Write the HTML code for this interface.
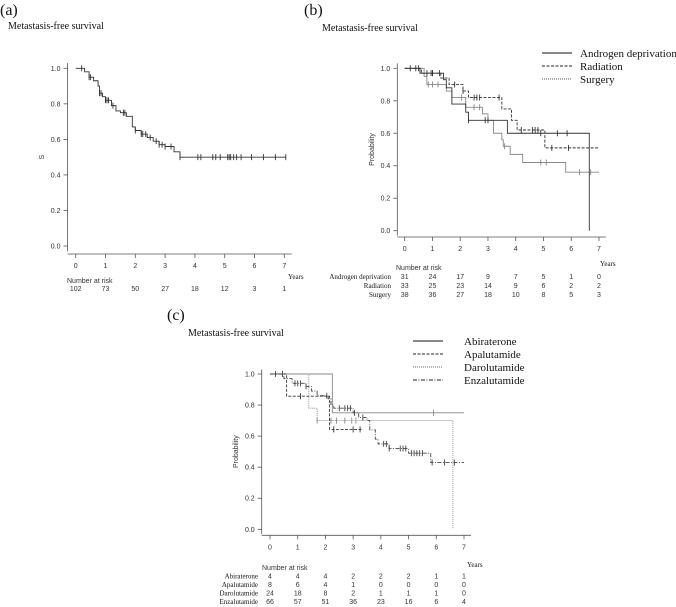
<!DOCTYPE html>
<html><head><meta charset="utf-8">
<style>
html,body{margin:0;padding:0;background:#fff;width:676px;height:607px;overflow:hidden}
svg{display:block}
.ser{font-family:"Liberation Serif",serif;fill:#111}
.san{font-family:"Liberation Sans",sans-serif;fill:#333;font-size:7px}
</style></head>
<body>
<svg id="fig" width="676" height="607" xmlns="http://www.w3.org/2000/svg">
<text class="ser" x="0" y="15" font-size="16">(a)</text>
<text class="ser" x="8" y="29" font-size="10">Metastasis-free survival</text>
<text class="ser" x="304" y="15" font-size="16">(b)</text>
<text class="ser" x="322" y="31" font-size="10">Metastasis-free survival</text>
<text class="ser" x="167" y="320" font-size="16">(c)</text>
<text class="ser" x="188" y="336" font-size="10">Metastasis-free survival</text>
</svg>
<script>
// ---- Panel A data ----
const aTimes=[0.3,0.45,0.6,0.75,0.8,0.9,1.0,1.2,1.35,1.5,1.7,1.9,2.0,2.2,2.4,2.6,2.8,3.0,3.3,3.5];
const aSurv=[0.98,0.95,0.93,0.9,0.86,0.84,0.82,0.79,0.76,0.75,0.73,0.67,0.65,0.63,0.61,0.59,0.57,0.56,0.53,0.50];
const aCens=[0.2,0.45,0.5,0.8,0.85,1.0,1.05,1.1,1.25,1.6,1.65,2.0,2.2,2.25,2.35,2.5,2.7,2.8,2.9,3.0,3.2,3.5,4.1,4.2,4.6,4.7,4.85,5.1,5.15,5.2,5.3,5.4,5.55,5.9,6.3,6.7,7.05];
const aEnd=7.05;
const aRisk=[102,73,50,27,18,12,3,1];
// ---- Panel B data ----
const bAdT=[0.55,1.4,1.5,1.7,2.2,2.3,3.7,6.65];
const bAdS=[0.97,0.93,0.88,0.78,0.73,0.68,0.60,0.0];
const bAdC=[0.2,0.4,0.95,1.0,1.25,2.3,2.9,3.0,4.9,5.5,5.85];
const bRaT=[0.6,1.3,1.6,2.1,2.3,3.5,3.85,4.05,5.05];
const bRaS=[0.97,0.94,0.90,0.86,0.82,0.75,0.68,0.62,0.51];
const bRaC=[0.5,0.8,1.0,1.8,2.1,2.5,2.6,2.7,3.4,4.2,4.6,4.7,4.8,5.3,5.9];
const bSuT=[0.7,0.8,1.5,1.7,2.2,2.8,3.0,3.2,3.5,3.55,3.8,4.25,5.8];
const bSuS=[0.95,0.90,0.86,0.82,0.76,0.72,0.68,0.60,0.56,0.52,0.47,0.42,0.36];
const bSuC=[0.85,1.0,1.2,2.05,2.5,2.7,3.6,4.9,5.1,6.3,6.7];
const bRiskAd=[31,24,17,9,7,5,1,0];
const bRiskRa=[33,25,23,14,9,6,2,2];
const bRiskSu=[38,36,27,18,10,8,5,3];
// ---- Panel C data ----
const cAbT=[2.25];const cAbS=[0.75];const cAbC=[5.9];
const cApT=[0.6,2.15];const cApS=[0.857,0.643];const cApC=[1.1,2.3,3.0,3.25];
const cDaT=[1.4,1.7,6.6];const cDaS=[0.78,0.70,0.0];const cDaC=[1.7,2.2,2.4,2.7,2.95,3.1];
const cEnT=[0.5,0.8,1.3,1.5,1.7,2.1,2.2,2.3,3.0,3.2,3.5,3.6,3.8,3.9,4.3,5.0,5.8];
const cEnS=[0.97,0.94,0.92,0.89,0.86,0.84,0.80,0.78,0.75,0.72,0.70,0.64,0.58,0.55,0.52,0.49,0.43];
const cEnC=[0.2,0.45,0.9,1.0,1.1,1.3,2.05,2.5,2.7,2.8,2.9,3.05,3.35,4.1,4.2,4.3,4.7,4.8,4.9,5.1,5.2,5.3,5.4,5.5,5.85,6.3,6.65];
const cRiskAb=[4,4,4,2,2,2,1,1];
const cRiskAp=[8,6,4,1,0,0,0,0];
const cRiskDa=[24,18,8,2,1,1,1,0];
const cRiskEn=[66,57,51,36,23,16,6,4];
const xTicks=[0,1,2,3,4,5,6,7];
const yTicks=[0,0.2,0.4,0.6,0.8,1.0];

const NS="http://www.w3.org/2000/svg";
const svg=document.getElementById('fig');
function mk(tag,attrs,parent){const e=document.createElementNS(NS,tag);for(const k in attrs)e.setAttribute(k,attrs[k]);(parent||svg).appendChild(e);return e;}

function panel(P){
  const g=mk('g',{});
  
  
  const X=t=>P.x0+t*(P.x7-P.x0)/7, Y=v=>P.yZero+v*(P.yOne-P.yZero);
  const ya=mk('line',{x1:P.ax,y1:Y(1.03),x2:P.ax,y2:Y(-0.03),stroke:'#555','stroke-width':0.8},g);
  
  yTicks.forEach(v=>{mk('line',{x1:P.ax-4,y1:Y(v),x2:P.ax,y2:Y(v),stroke:'#555','stroke-width':0.8},g);
    const t=mk('text',{x:P.ax-7,y:Y(v)+2.5,'text-anchor':'end',class:'san'},g);t.textContent=v.toFixed(1);
    });
  const xa=mk('line',{x1:P.ax,y1:P.axY,x2:X(7.25),y2:P.axY,stroke:'#555','stroke-width':0.8},g);
  
  xTicks.forEach(v=>{mk('line',{x1:X(v),y1:P.axY,x2:X(v),y2:P.axY+4,stroke:'#555','stroke-width':0.8},g);
    const t=mk('text',{x:X(v),y:P.axY+14,'text-anchor':'middle',class:'san'},g);t.textContent=v;
    });
  const yl=mk('text',{x:P.ylX,y:(Y(0)+Y(1))/2,'text-anchor':'middle',class:'san',transform:`rotate(-90 ${P.ylX} ${(Y(0)+Y(1))/2})`},g);
  yl.textContent=P.ylab;
  const yr=mk('text',{x:P.yearsX,y:P.yearsY,class:'ser','font-size':7},g);yr.textContent='Years';
  
  P.series.forEach(s=>{
    let d=`M${X(0)},${Y(1)}`;
    s.t.forEach((t,i)=>{d+=` H${X(t)} V${Y(s.s[i])}`;});
    const last=s.t.length?s.t[s.t.length-1]:0;
    if(s.end>last) d+=` H${X(s.end)}`;
    const p=mk('path',{d:d,fill:'none',stroke:s.col,'stroke-width':0.9,'stroke-dasharray':s.dash},g);
    
    s.c.forEach(ct=>{let v=1;s.t.forEach((t,i)=>{if(t<=ct)v=s.s[i];});
      const m=mk('path',{d:`M${X(ct)},${Y(v)-3}V${Y(v)+3}`,stroke:s.col,'stroke-width':0.9},g);
      });
  });
  const nr=mk('text',{x:P.nrX,y:P.nrY,class:'san','font-size':6.5},g);nr.textContent='Number at risk';
  
  P.risk.forEach((r,ri)=>{const yy=P.nrY+P.rowGap*(ri+1);
    if(r.label){const l=mk('text',{x:P.rlX,y:yy,'text-anchor':'end',class:'ser','font-size':7},g);l.textContent=r.label;
      }
    r.v.forEach((n,i)=>{const t=mk('text',{x:X(xTicks[i]),y:yy,'text-anchor':'middle',class:'san'},g);t.textContent=n;
      });});
  (P.legend||[]).forEach((s,i)=>{const yy=P.lgY+i*P.lgGap;
    const ln=mk('line',{x1:P.lgX,y1:yy-4,x2:P.lgX+30,y2:yy-4,stroke:s.col,'stroke-width':1,'stroke-dasharray':s.dash},g);
    
    const t=mk('text',{x:P.lgTX,y:yy,class:'ser','font-size':11},g);t.textContent=s.label;
    });
}

panel({name:'panel-a',x0:75.7,x7:284.3,yZero:246,yOne:68.3,ax:67.5,axY:254,ylX:44,ylab:'S',yearsX:288,yearsY:279,
  nrX:67,nrY:283,rowGap:8,rlX:0,
  risk:[{label:'',v:aRisk}],
  series:[{key:'overall',t:aTimes,s:aSurv,c:aCens,end:aEnd,col:'#333',dash:'none'}]});

const bLeg=[{label:'Androgen deprivation',col:'#111',dash:'none'},{label:'Radiation',col:'#222',dash:'3,1.5'},{label:'Surgery',col:'#555',dash:'1,1'}];
panel({name:'panel-b',x0:404.7,x7:599,yZero:230.7,yOne:68.3,ax:397.3,axY:237,ylX:374,ylab:'Probability',yearsX:600,yearsY:266,
  nrX:396,nrY:270,rowGap:9,rlX:391,
  risk:[{label:'Androgen deprivation',v:bRiskAd},{label:'Radiation',v:bRiskRa},{label:'Surgery',v:bRiskSu}],
  legend:bLeg,lgX:542,lgTX:580,lgY:57,lgGap:13,
  series:[{key:'surgery',t:bSuT,s:bSuS,c:bSuC,end:7.0,col:'#888',dash:'none'},
          {key:'radiation',t:bRaT,s:bRaS,c:bRaC,end:7.0,col:'#333',dash:'3,1.5'},
          {key:'androgen-deprivation',t:bAdT,s:bAdS,c:bAdC,end:6.65,col:'#333',dash:'none'}]});

const cLeg=[{label:'Abiraterone',col:'#111',dash:'none'},{label:'Apalutamide',col:'#222',dash:'3,1.5'},{label:'Darolutamide',col:'#666',dash:'1,1'},{label:'Enzalutamide',col:'#222',dash:'4,1.5,1,1.5'}];
panel({name:'panel-c',x0:270,x7:464,yZero:529.3,yOne:374,ax:261.7,axY:535.3,ylX:238,ylab:'Probability',yearsX:467,yearsY:567,
  nrX:262,nrY:570,rowGap:8.5,rlX:258,
  risk:[{label:'Abiraterone',v:cRiskAb},{label:'Apalutamide',v:cRiskAp},{label:'Darolutamide',v:cRiskDa},{label:'Enzalutamide',v:cRiskEn}],
  legend:cLeg,lgX:413,lgTX:464,lgY:345,lgGap:13,
  series:[{key:'abiraterone',t:cAbT,s:cAbS,c:cAbC,end:7.0,col:'#888',dash:'none'},
          {key:'darolutamide',t:cDaT,s:cDaS,c:cDaC,end:6.6,col:'#888',dash:'1,1'},
          {key:'enzalutamide',t:cEnT,s:cEnS,c:cEnC,end:7.0,col:'#444',dash:'4,1.5,1,1.5'},
          {key:'apalutamide',t:cApT,s:cApS,c:cApC,end:3.3,col:'#333',dash:'3,1.5'}]});
</script>
</body></html>
